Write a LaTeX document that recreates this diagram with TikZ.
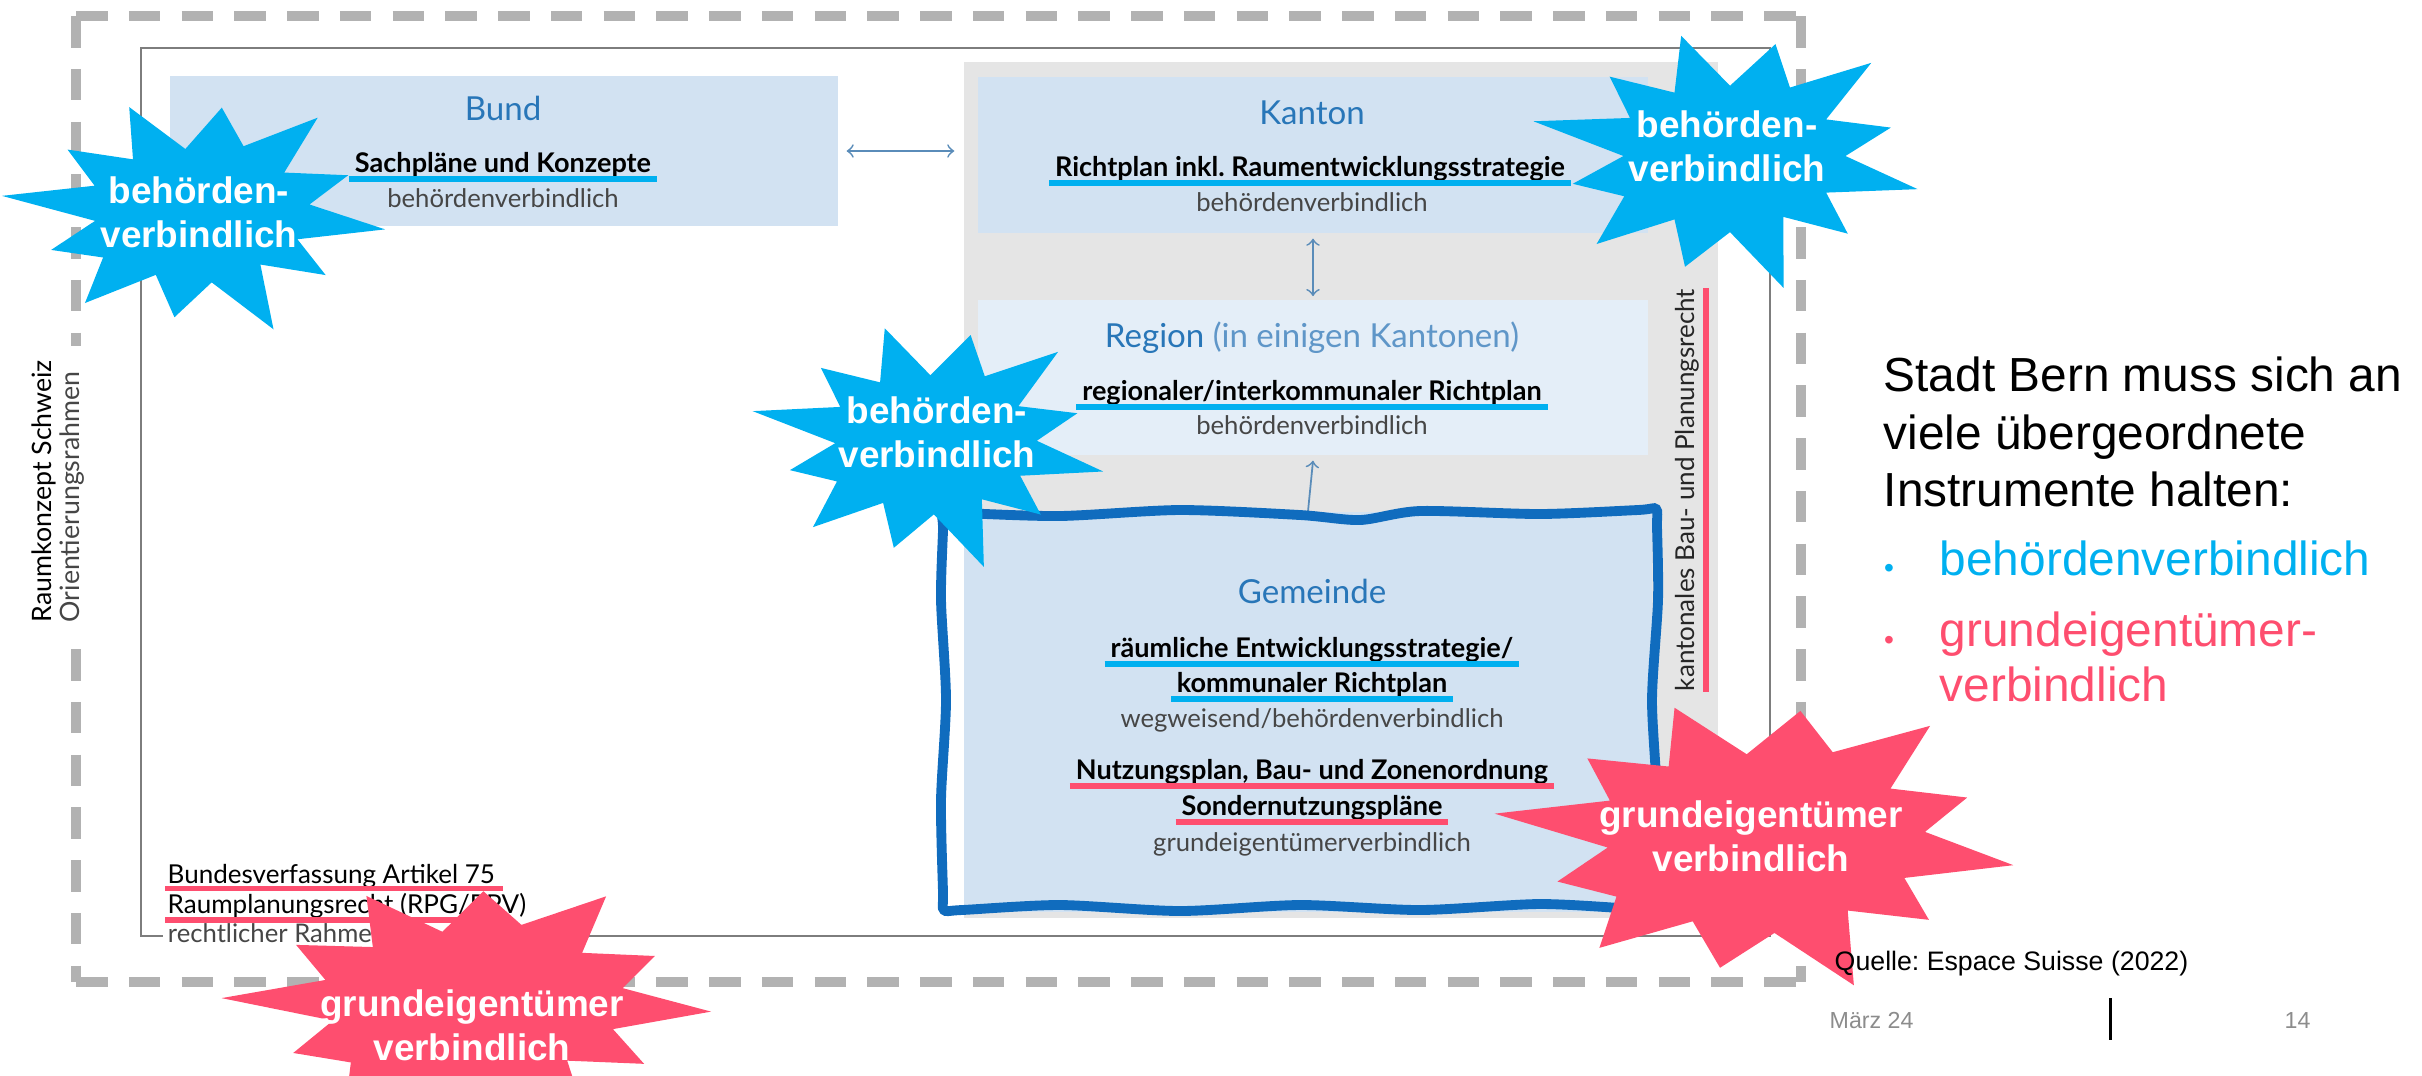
\documentclass[tikz,border=0pt]{standalone}
\usepackage{fontspec}
\setmainfont{Lato}
\newfontfamily\arial{Liberation Sans}
\usepackage{tikz}
\usetikzlibrary{positioning}
\frenchspacing

\definecolor{boxblue}{RGB}{210,226,242}
\definecolor{regionblue}{RGB}{228,238,248}
\definecolor{boxgray}{RGB}{229,229,229}
\definecolor{titleblue}{RGB}{40,118,184}
\definecolor{lighttitle}{RGB}{95,150,200}
\definecolor{ulblue}{RGB}{0,176,240}
\definecolor{ulred}{RGB}{254,78,111}
\definecolor{notegray}{RGB}{70,70,70}
\definecolor{framegray}{RGB}{178,178,178}
\definecolor{linegray}{RGB}{125,125,125}
\definecolor{arrowblue}{RGB}{90,140,185}
\definecolor{waveblue}{RGB}{16,108,190}
\definecolor{datumgray}{RGB}{140,140,140}

\begin{document}
\begin{tikzpicture}[x=0.01cm, y=-0.01cm, >=to,
    every node/.style={inner sep=0pt},
    dashframe/.style={line width=2.8pt, draw=framegray, dash pattern=on 9pt off 6pt},
    thinframe/.style={line width=0.6pt, draw=linegray},
    box/.style={draw=none},
    level/.style={font=\fontsize{9.4}{11}\selectfont, text=titleblue},
    plan/.style={font=\bfseries\fontsize{7.7}{9}\selectfont, text=black},
    note/.style={font=\fontsize{7.3}{8.6}\selectfont, text=notegray},
    law/.style={font=\fontsize{7.4}{9}\selectfont, anchor=base west},
    blueul/.style={line width=1.6pt, draw=ulblue},
    redul/.style={line width=1.6pt, draw=ulred},
    arr/.style={line width=0.5pt, draw=arrowblue},
    wave/.style={line width=2.8pt, draw=waveblue},
    startext/.style={font=\arial\bfseries\fontsize{10.5}{12.6}\selectfont, text=white, align=center},
    slide/.style={font=\arial\fontsize{13.6}{16.4}\selectfont},
    smalltext/.style={font=\arial\fontsize{6.6}{8}\selectfont, text=datumgray, anchor=base west},
    pics/burst/.style n args={4}{code={
        \fill ({#3-15}:{.52*#4*#1} and {.52*#4*#2})
          \foreach \ro/\ri [count=\i] in {1.05/.5,.9/.48,1.12/.52,.94/.5,1.02/.55,.88/.48,1.1/.52,.92/.5,1.02/.48,.95/.54,1.08/.5,.9/.52}
            { -- ({(\i-1)*30+#3}:{\ro*#1} and {\ro*#2}) -- ({(\i-1)*30+15+#3}:{\ri*#4*#1} and {\ri*#4*#2}) }
          -- cycle;
    }}]
    \useasboundingbox (0,0) rectangle (2422,1075);

    \draw[dashframe] (76,16) -- (1801,16);
    \draw[dashframe] (1801,16) -- (1801,982);
    \draw[dashframe] (76,982) -- (1801,982);
    \draw[dashframe] (76,16) -- (76,982);
    \draw[thinframe] (141,48) rectangle (1770,936);

    \node[box, fill=boxgray, minimum width=7.54cm, minimum height=8.56cm] (kgrau) at (1341,490) {};
    \node[box, fill=boxblue, minimum width=6.68cm, minimum height=1.5cm] (bund) at (504,151) {};
    \node[box, fill=boxblue, minimum width=6.70cm, minimum height=1.56cm] (kanton) at (1313,155) {};
    \node[box, fill=regionblue, minimum width=6.70cm, minimum height=1.55cm] (region) at (1313,377.5) {};
    \node[box, fill=boxblue, minimum width=6.88cm, minimum height=4cm] (gemeinde) at (1308,712) {};

    \node[level, anchor=base] (tbund) at (503,120) {Bund};
    \node[plan, anchor=base] (sach) at (503,172) {Sachpläne und Konzepte};
    \node[note, anchor=base] (nbund) at (503,207) {behördenverbindlich};

    \node[level, anchor=base] (tkanton) at (1312,124) {Kanton};
    \node[plan, anchor=base] (richt) at (1310,176) {Richtplan inkl. Raumentwicklungsstrategie};
    \node[note, anchor=base] (nkanton) at (1312,211) {behördenverbindlich};

    \node[level, anchor=base] (tregion) at (1312,347) {Region {\color{lighttitle}(in einigen Kantonen)}};
    \node[plan, anchor=base] (regrp) at (1312,400) {regionaler/interkommunaler Richtplan};
    \node[note, anchor=base] (nregion) at (1312,434) {behördenverbindlich};

    \node[level, anchor=base] (tgemeinde) at (1312,603) {Gemeinde};
    \node[plan, anchor=base] (raeuml) at (1312,657) {räumliche Entwicklungsstrategie/};
    \node[plan, anchor=base] (komm) at (1312,692) {kommunaler Richtplan};
    \node[note, anchor=base] (nweg) at (1312,727) {wegweisend/behördenverbindlich};
    \node[plan, anchor=base] (nutz) at (1312,779) {Nutzungsplan, Bau- und Zonenordnung};
    \node[plan, anchor=base] (sonder) at (1312,815) {Sondernutzungspläne};
    \node[note, anchor=base] (ngrund) at (1312,851) {grundeigentümerverbindlich};

    \draw[blueul] ([xshift=-1.5pt,yshift=-2pt]sach.base west) -- ([xshift=1.5pt,yshift=-2pt]sach.base east);
    \draw[blueul] ([xshift=-1.5pt,yshift=-2pt]richt.base west) -- ([xshift=1.5pt,yshift=-2pt]richt.base east);
    \draw[blueul] ([xshift=-1.5pt,yshift=-2pt]regrp.base west) -- ([xshift=1.5pt,yshift=-2pt]regrp.base east);
    \draw[blueul] ([xshift=-1.5pt,yshift=-2pt]raeuml.base west) -- ([xshift=1.5pt,yshift=-2pt]raeuml.base east);
    \draw[blueul] ([xshift=-1.5pt,yshift=-2pt]komm.base west) -- ([xshift=1.5pt,yshift=-2pt]komm.base east);
    \draw[redul] ([xshift=-1.5pt,yshift=-2pt]nutz.base west) -- ([xshift=1.5pt,yshift=-2pt]nutz.base east);
    \draw[redul] ([xshift=-1.5pt,yshift=-2pt]sonder.base west) -- ([xshift=1.5pt,yshift=-2pt]sonder.base east);

    \draw[arr, <->] ([xshift=2.2pt]bund.east) -- ([xshift=-2.5pt]bund.east -| kgrau.west);
    \draw[arr, <->] ([yshift=-1.4pt]kanton.south) -- ([yshift=0.9pt]region.north);
    \draw[arr, ->] (gemeinde.north) -- ([yshift=-1.4pt]region.south);

    \draw[wave] plot[smooth cycle, tension=0.45] coordinates {
        (943,512) (962,513) (1060,516) (1180,510) (1300,515) (1360,520) (1420,511) (1540,514) (1638,510) (1656,509)
        (1657,527) (1658,600) (1652,700) (1657,800) (1654,890) (1654,909)
        (1636,909) (1540,904) (1420,910) (1300,905) (1180,911) (1060,905) (962,910) (944,910)
        (943,892) (941,800) (946,700) (941,600) (943,530)};

    \node[rotate=90, anchor=west, fill=white, inner xsep=4pt, inner ysep=1pt, align=left,
          font=\fontsize{7.6}{7.8}\selectfont] (raumkonzept) at (58,637)
          {Raumkonzept Schweiz\\{\color{notegray}Orientierungsrahmen}};
    \node[note, anchor=base west, fill=white, inner xsep=1.5pt, inner ysep=1pt] (rahmen) at (162,942) {rechtlicher Rahmen};
    \node[law] (bv) at (167,883) {Bundesverfassung Artikel 75};
    \node[law] (rpg) at (167,913) {Raumplanungsrecht (RPG/RPV)};
    \draw[redul] ([xshift=-0.5pt,yshift=-1.6pt]bv.base west) -- ([xshift=2pt,yshift=-1.6pt]bv.base east);
    \draw[redul] ([xshift=-0.5pt,yshift=-2pt]rpg.base west) -- ([xshift=-5pt,yshift=-2pt]rpg.base east);

    \node[rotate=90, font=\fontsize{7.4}{8.8}\selectfont, text=black!85] (kbp) at (1687,490) {kantonales Bau- und Planungsrecht};
    \draw[redul] ([xshift=1.8pt]kbp.south west) -- ([xshift=1.8pt]kbp.south east);

    \pic[color=ulblue] at (198,213) {burst={180}{112}{8}{1.2}};
    \pic[color=ulblue] at (1730,156) {burst={185}{122}{15}{1.2}};
    \pic[color=ulblue] at (932,442) {burst={168}{116}{14}{1.2}};
    \pic[color=ulred] at (472,1005) {burst={228}{120}{3}{1.3}};
    \pic[color=ulred] at (1760,840) {burst={245}{138}{10}{1.3}};
    \node[startext] (stara) at (199,212) {behörden-\\verbindlich};
    \node[startext] (starb) at (1727,146) {behörden-\\verbindlich};
    \node[startext] (starc) at (937,432) {behörden-\\verbindlich};
    \node[startext] (stard) at (472,1025) {grundeigentümer\\verbindlich};
    \node[startext] (stare) at (1751,836) {grundeigentümer\\verbindlich};

    \node[slide, anchor=west, align=left] (bern) at (1883,432) {Stadt Bern muss sich an\\viele übergeordnete\\Instrumente halten:};
    \node[font=\arial\fontsize{8}{9}\selectfont, text=ulblue, anchor=base] (dot1) at (1889,577) {•};
    \node[slide, text=ulblue, anchor=base west] (lbehoerde) at (1939,575) {behördenverbindlich};
    \node[font=\arial\fontsize{8}{9}\selectfont, text=ulred, anchor=base] (dot2) at (1889,649) {•};
    \node[font=\arial\fontsize{13.6}{15.6}\selectfont, text=ulred, anchor=west, align=left] (lgrund) at (1939,657) {grundeigentümer-\\verbindlich};

    \node[font=\arial\fontsize{7.6}{9}\selectfont, anchor=base west] (quelle) at (1834,970) {Quelle: Espace Suisse (2022)};
    \node[smalltext] (datum) at (1829,1028) {März 24};
    \node[smalltext] (seite) at (2284,1028) {14};
    \draw[line width=0.85pt] (2110,998) -- (2110,1040);
\end{tikzpicture}
\end{document}
